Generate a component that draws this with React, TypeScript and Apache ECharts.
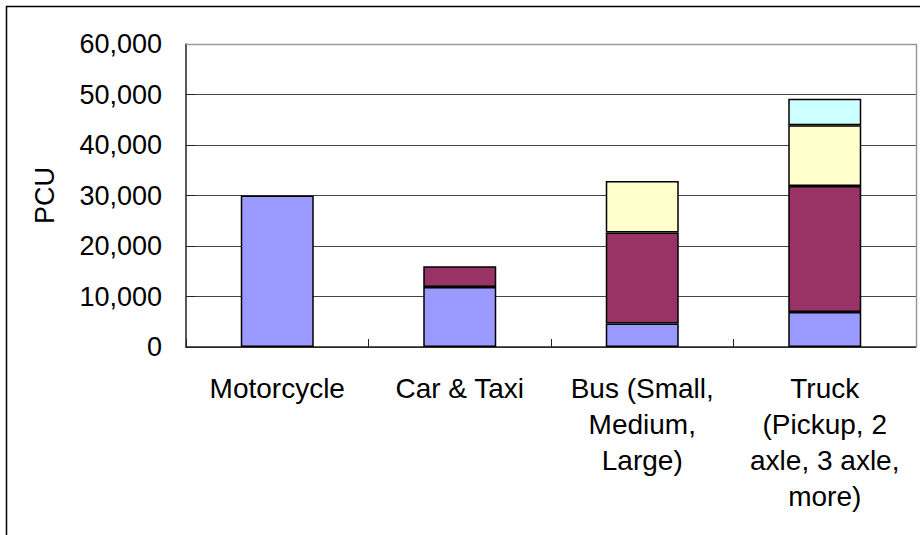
import React, { useEffect, useRef } from "react";
import * as echarts from "echarts";

// Vehicle classes on the x axis (line breaks as printed under each bar)
const categories: string[] = [
  "Motorcycle",
  "Car & Taxi",
  "Bus (Small,\nMedium,\nLarge)",
  "Truck\n(Pickup, 2\naxle, 3 axle,\nmore)",
];

// Stacked PCU segments, bottom to top
const segmentA: (number | string)[] = [30000, 11900, 4650, 6950];
const segmentB: (number | string)[] = ["-", 4100, 18000, 24950];
const segmentC: (number | string)[] = ["-", "-", 10200, 12000];
const segmentD: (number | string)[] = ["-", "-", "-", 5250];

const segmentColors: string[] = ["#9999FF", "#993366", "#FFFFCC", "#CCFFFF"];

const yMin = 0;
const yMax = 60000;
const yStep = 10000;

const FONT = "'Liberation Sans', Arial, Helvetica, sans-serif";

export default function App() {
  const ref = useRef<HTMLDivElement>(null);

  useEffect(() => {
    if (!ref.current) return;
    const chart = echarts.init(ref.current, undefined, { renderer: "svg" });

    const segments = [segmentA, segmentB, segmentC, segmentD];

    chart.setOption({
      animation: false,
      backgroundColor: "#ffffff",
      textStyle: { fontFamily: FONT },
      grid: { left: 186, top: 44, right: 4, bottom: 188, containLabel: false },
      graphic: [
        {
          type: "rect",
          shape: { x: 6.5, y: 6.5, width: 1200, height: 1200 },
          style: { fill: "none", stroke: "#000000", lineWidth: 1.5 },
          silent: true,
        },
        {
          // plot-area frame (top and right edges)
          type: "polyline",
          shape: { points: [[186, 44.5], [916.5, 44.5], [916.5, 347]] },
          style: { fill: "none", stroke: "#999999", lineWidth: 1.5 },
          silent: true,
          z: 10,
        },
      ],
      xAxis: {
        type: "category",
        data: categories,
        boundaryGap: true,
        axisLine: { show: true, lineStyle: { color: "#222222", width: 1.5 } },
        axisTick: {
          show: true,
          inside: true,
          length: 8,
          alignWithLabel: false,
          lineStyle: { color: "#222222", width: 1 },
        },
        axisLabel: {
          interval: 0,
          margin: 23,
          color: "#000000",
          fontSize: 28,
          lineHeight: 36,
          fontFamily: FONT,
          align: "center",
        },
        splitLine: { show: false },
      },
      yAxis: {
        type: "value",
        min: yMin,
        max: yMax,
        interval: yStep,
        name: "PCU",
        nameLocation: "middle",
        nameRotate: 90,
        nameGap: 128,
        nameTextStyle: { color: "#000000", fontSize: 27, fontFamily: FONT },
        axisLine: { show: true, lineStyle: { color: "#222222", width: 1.5 } },
        axisTick: {
          show: true,
          inside: true,
          length: 9,
          lineStyle: { color: "#222222", width: 1 },
        },
        axisLabel: {
          margin: 24,
          color: "#000000",
          fontSize: 27,
          fontFamily: FONT,
          formatter: (v: number) => v.toLocaleString("en-US"),
        },
        splitLine: { show: true, lineStyle: { color: "#444444", width: 1 } },
      },
      series: segments.map((values, i) => ({
        type: "bar",
        stack: "pcu",
        data: values,
        barWidth: "40%",
        itemStyle: {
          color: segmentColors[i],
          borderColor: "#000000",
          borderWidth: 1.5,
        },
        emphasis: { disabled: true },
      })),
    });

    return () => chart.dispose();
  }, []);

  return (
    <div
      ref={ref}
      style={{ position: "absolute", left: 0, top: 0, width: 920, height: 535, background: "#ffffff" }}
    />
  );
}
